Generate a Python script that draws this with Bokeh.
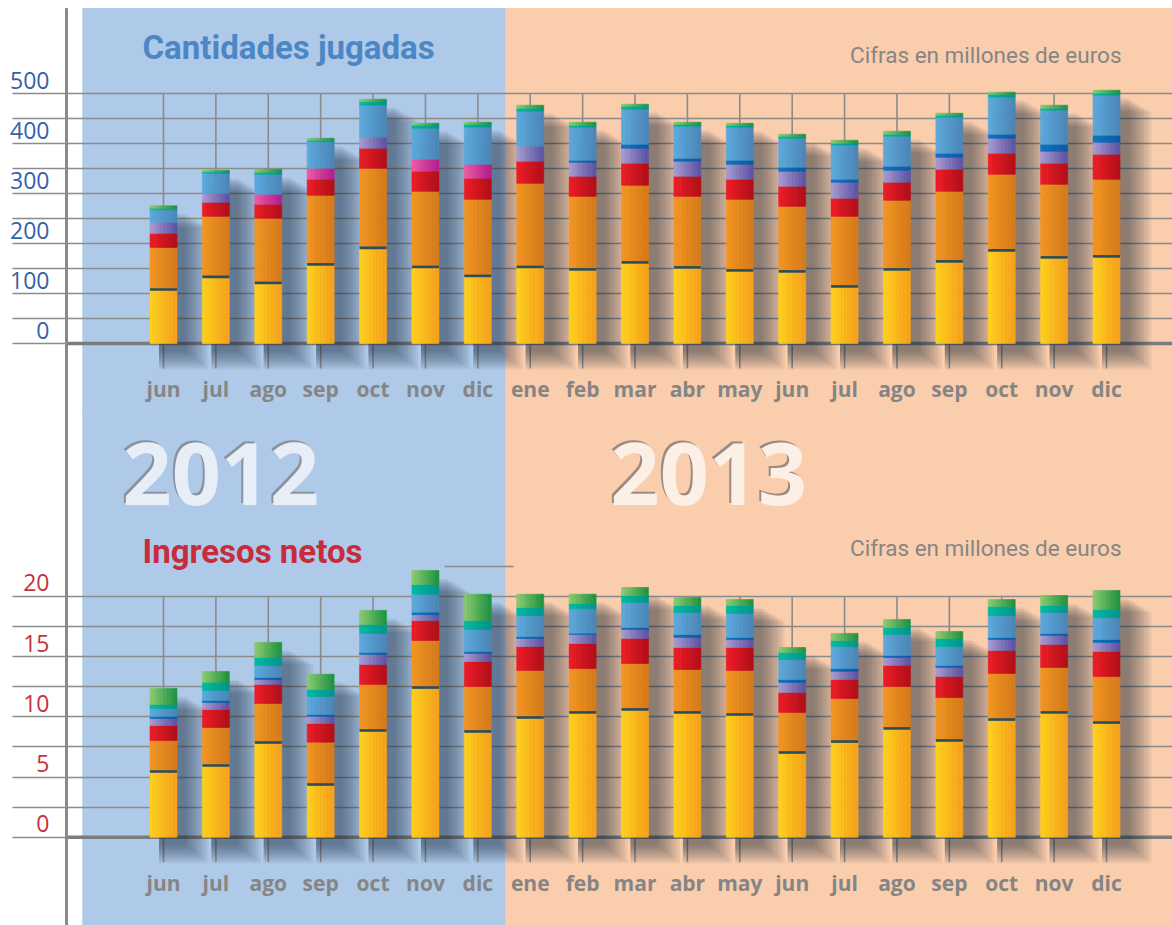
import numpy as np
from bokeh.plotting import figure
from bokeh.layouts import column
from bokeh.models import Range1d, ColumnDataSource, FixedTicker
from bokeh.core.properties import value
from bokeh.embed import file_html
from bokeh.resources import INLINE

# ---------------------------------------------------------------- data
months = ["jun", "jul", "ago", "sep", "oct", "nov", "dic",
          "ene", "feb", "mar", "abr", "may", "jun", "jul", "ago", "sep", "oct", "nov", "dic"]
years = ["2012"] * 7 + ["2013"] * 12

# Cantidades jugadas (millones de euros), stacked bottom -> top
cj_amarillo = [108, 133, 121, 158, 191, 153, 135, 153, 148, 162, 152, 146, 144, 114, 148, 164, 186, 172, 174]
cj_naranja  = [84, 121, 129, 138, 159, 151, 153, 167, 146, 154, 142, 142, 130, 140, 138, 140, 152, 146, 154]
cj_rojo     = [28, 28, 28, 32, 40, 40, 42, 44, 40, 44, 40, 40, 40, 36, 36, 44, 42, 42, 50]
cj_rosa     = [0, 0, 20, 22, 0, 24, 28, 0, 0, 0, 0, 0, 0, 0, 0, 0, 0, 0, 0]
cj_morado   = [22, 18, 0, 0, 22, 0, 0, 30, 28, 30, 30, 30, 30, 32, 24, 24, 30, 24, 24]
cj_azul_osc = [0, 0, 0, 0, 0, 0, 0, 0, 4, 8, 6, 8, 8, 6, 8, 8, 8, 14, 14]
cj_azul     = [25, 40, 40, 53, 64, 62, 74, 70, 66, 70, 64, 66, 58, 68, 60, 72, 74, 68, 80]
cj_turquesa = [3, 3, 4, 3, 7, 6, 6, 6, 4, 6, 4, 4, 4, 4, 4, 4, 6, 4, 4]
cj_verde    = [5, 3, 6, 4, 5, 4, 4, 6, 6, 4, 4, 4, 4, 6, 6, 4, 4, 6, 6]

# Ingresos netos (millones de euros), stacked bottom -> top
in_amarillo = [5.46, 5.96, 7.87, 4.38, 8.87, 12.44, 8.79, 9.95, 10.37, 10.62, 10.37, 10.20, 7.04, 7.95, 9.04, 8.04, 9.78, 10.37, 9.53]
in_naranja  = [2.58, 3.16, 3.25, 3.52, 3.83, 3.91, 3.74, 3.91, 3.65, 3.82, 3.57, 3.66, 3.33, 3.58, 3.49, 3.57, 3.83, 3.74, 3.83]
in_rojo     = [1.25, 1.50, 1.58, 1.55, 1.66, 1.65, 2.07, 1.99, 2.08, 2.08, 1.83, 1.91, 1.66, 1.58, 1.75, 1.75, 1.91, 1.91, 2.08]
in_morado   = [0.58, 0.58, 0.40, 0.59, 0.84, 0.50, 0.67, 0.67, 0.75, 0.75, 0.83, 0.66, 0.83, 0.67, 0.66, 0.75, 0.91, 0.75, 0.75]
in_azul_osc = [0.17, 0.17, 0.18, 0.16, 0.16, 0.20, 0.17, 0.16, 0.11, 0.16, 0.25, 0.17, 0.25, 0.24, 0.17, 0.17, 0.17, 0.17, 0.24]
in_azul     = [0.66, 0.83, 1.00, 1.50, 1.58, 1.50, 1.83, 1.75, 2.04, 2.08, 1.83, 2.00, 1.66, 1.83, 1.74, 1.57, 1.83, 1.74, 1.83]
in_turquesa = [0.34, 0.67, 0.66, 0.58, 0.75, 0.80, 0.73, 0.67, 0.43, 0.58, 0.58, 0.66, 0.59, 0.50, 0.58, 0.67, 0.75, 0.58, 0.67]
in_verde    = [1.33, 0.91, 1.25, 1.27, 1.16, 1.17, 2.20, 1.10, 0.77, 0.67, 0.67, 0.50, 0.41, 0.59, 0.67, 0.58, 0.58, 0.83, 1.58]

cj_ticks = [0, 100, 200, 300, 400, 500]
cj_grid = list(range(0, 501, 50))
in_ticks = [0, 5, 10, 15, 20]
in_grid = [0, 2.5, 5, 7.5, 10, 12.5, 15, 17.5, 20]

# ---------------------------------------------------------------- styles
COL = {
    "amarillo": ("#FFD11C", "#F6A01C"),
    "naranja": ("#F39621", "#D47A1A"),
    "rojo": ("#EE1D26", "#B10E17"),
    "rosa": ("#EF5CA2", "#B31C8C"),
    "morado": ("#A99DD1", "#5A51A2"),
    "azul_osc": ("#1272C2", "#0A5BA6"),
    "azul": ("#5DAADF", "#4A86B6"),
    "turquesa": ("#00BBA3", "#00958A"),
    "verde": ("#8DCC70", "#1A9140"),
}
GRID_C = "#8b8b8b"
AXIS_C = "#8a8a8a"
BLUE_BG = "#AFC9E8"
PEACH_BG = "#FACDAD"
N = len(months)
idx = np.arange(N)

# layout in page pixels (page origin = top-left of the window)
PAGE_W, PAGE_H = 1172, 925
FRAME_L, FRAME_R = 66, 1172
TOP_Y0, SPLIT_Y, BOT_Y1 = 0, 408, 925
BG_TOP, BLUE_L, SPLIT_X = 8, 82, 505
X0_PX, DX_PX = 163.0, 52.39
BAR_W = 27 / DX_PX
TOP_BASE, TOP_PPU = 343.0, 0.5006
BOT_BASE, BOT_PPU = 836.7, 12.03
STRIPS = 8
SH_DX, SH_DY = 9.0, 8.0
BL = 0.30  # svg alphabetic baseline correction (fraction of font size)


def hex2rgb(h):
    h = h.lstrip("#")
    return np.array([int(h[i:i + 2], 16) for i in (0, 2, 4)], float)


def mix(a, b, t):
    c = hex2rgb(a) * (1 - t) + hex2rgb(b) * t
    return "#%02x%02x%02x" % tuple(int(round(v)) for v in c)


def ptext(p, x, y, text, size, color, align="left", bold=False, font="Roboto", **kw):
    p.text(x=x, y=[v - BL * size for v in y], text=text, x_range_name="px", y_range_name="px",
           text_align=align, text_baseline="alphabetic", text_font=value(font),
           text_font_style="bold" if bold else "normal", text_font_size=f"{size}px",
           text_color=color, **kw)


def make_panel(segs, grid_vals, tick_vals, tick_off, base, ppu, top_px, bot_px, tick_color):
    yr = Range1d((base - bot_px) / ppu, (base - top_px) / ppu)
    p = figure(width=PAGE_W, height=int(bot_px - top_px),
               x_range=Range1d((FRAME_L - X0_PX) / DX_PX, (FRAME_R - X0_PX) / DX_PX),
               y_range=yr,
               x_axis_location=None, y_axis_location="left",
               toolbar_location=None, output_backend="svg",
               min_border_left=FRAME_L, min_border_right=0, min_border_top=0, min_border_bottom=0,
               background_fill_color=None, border_fill_color=None, outline_line_color=None)
    p.extra_x_ranges = {"px": Range1d(FRAME_L, FRAME_R)}
    p.extra_y_ranges = {"px": Range1d(bot_px, top_px)}
    p.xgrid.visible = False

    # axis: labels slightly raised above their gridline, gridline stubs as minor ticks
    ax = p.yaxis[0]
    lab_pos = [float(v) + tick_off for v in tick_vals]
    ax.ticker = FixedTicker(ticks=lab_pos, minor_ticks=[float(g) for g in grid_vals])
    ax.major_label_overrides = {lp: f"{v:g}" for lp, v in zip(lab_pos, tick_vals)}
    ax.major_tick_line_color = None
    ax.major_tick_out = 0
    ax.major_tick_in = 0
    ax.minor_tick_out = FRAME_L - 12
    ax.minor_tick_in = 0
    ax.minor_tick_line_color = GRID_C
    ax.minor_tick_line_width = 1.6
    ax.axis_line_color = AXIS_C
    ax.axis_line_width = 3
    ax.major_label_standoff = (FRAME_L - 49) - (FRAME_L - 12)
    ax.major_label_text_font = "Open Sans"
    ax.major_label_text_font_size = "23px"
    ax.major_label_text_color = tick_color
    if top_px < BG_TOP:
        ax.bounds = (yr.start, (base - BG_TOP) / ppu)

    g = p.ygrid[0]
    g.ticker = FixedTicker(ticks=[float(v) for v in grid_vals])
    g.grid_line_color = GRID_C
    g.grid_line_width = 1.6

    # backgrounds (2012 blue / 2013 peach)
    bt = max(top_px, BG_TOP)
    p.quad(left=[FRAME_L - 2, BLUE_L, SPLIT_X], right=[BLUE_L, SPLIT_X, FRAME_R + 10],
           top=[bt] * 3, bottom=[bot_px + 10] * 3,
           fill_color=["white", BLUE_BG, PEACH_BG], line_color=None,
           x_range_name="px", y_range_name="px", level="image")

    # vertical grid lines at each month
    tick_len = 25 / ppu
    p.segment(x0=idx, x1=idx, y0=[max(grid_vals)] * N, y1=[-tick_len] * N,
              line_color=GRID_C, line_width=1.6)
    # baseline
    p.segment(x0=[FRAME_L - 2], x1=[FRAME_R + 10], y0=[0], y1=[0], x_range_name="px",
              line_color="#7c7c7c", line_width=3.5)

    totals = np.sum([np.asarray(v, float) for v, _ in segs], axis=0)
    # soft shadow towards the lower right
    for s in np.arange(0, 24, 2.5):
        p.quad(left=idx - BAR_W / 2 + SH_DX / DX_PX,
               right=idx + BAR_W / 2 + (SH_DX + s) / DX_PX,
               top=totals - (SH_DY + 0.6 * s) / ppu,
               bottom=np.full(N, -(SH_DY + 0.8 * s) / ppu),
               fill_color="#141b2b", fill_alpha=0.06, line_color=None)

    # stacked bars with horizontal gradient (thin strips)
    xs, bots, tops, cols = [], [], [], []
    cum = np.zeros(N)
    for vals, key in segs:
        vals = np.asarray(vals, float)
        cl, cr = COL[key]
        for k in range(STRIPS):
            c = mix(cl, cr, (k + 0.5) / STRIPS)
            for i in range(N):
                if vals[i] <= 0:
                    continue
                xs.append(i - BAR_W / 2 + (k + 0.5) * BAR_W / STRIPS)
                bots.append(cum[i])
                tops.append(cum[i] + vals[i])
                cols.append(c)
        cum = cum + vals
    src = ColumnDataSource(dict(x=xs, bottom=bots, top=tops, color=cols))
    p.vbar(x="x", width=BAR_W / STRIPS, bottom="bottom", top="top", source=src,
           fill_color="color", line_color="color", line_width=0.6)

    # dark divider at top of the yellow segment
    first = np.asarray(segs[0][0], float)
    p.segment(x0=idx - BAR_W / 2, x1=idx + BAR_W / 2, y0=first, y1=first,
              line_color="#284e5e", line_width=2.6)

    return p


# ---------------------------------------------------------------- top panel
top = make_panel(
    [(cj_amarillo, "amarillo"), (cj_naranja, "naranja"), (cj_rojo, "rojo"), (cj_rosa, "rosa"),
     (cj_morado, "morado"), (cj_azul_osc, "azul_osc"), (cj_azul, "azul"),
     (cj_turquesa, "turquesa"), (cj_verde, "verde")],
    cj_grid, cj_ticks, 26, TOP_BASE, TOP_PPU, TOP_Y0, SPLIT_Y, "#3462aa")

top.text(x=idx, y=[395 - BL * 21] * N, text=months, y_range_name="px",
         text_align="center", text_baseline="alphabetic",
         text_font=value("Open Sans"), text_font_style="bold", text_font_size="21px", text_color="#858585")
ptext(top, [142], [57], ["Cantidades jugadas"], 33, "#4b86c6", bold=True)
ptext(top, [1121], [61], ["Cifras en millones de euros"], 22.5, "#858585", align="right")

# ---------------------------------------------------------------- bottom panel
bot = make_panel(
    [(in_amarillo, "amarillo"), (in_naranja, "naranja"), (in_rojo, "rojo"),
     (in_morado, "morado"), (in_azul_osc, "azul_osc"), (in_azul, "azul"),
     (in_turquesa, "turquesa"), (in_verde, "verde")],
    in_grid, in_ticks, 1.14, BOT_BASE, BOT_PPU, SPLIT_Y, BOT_Y1, "#c5323d")

# year captions (embossed look)
year_x = [120, 608]
year_txt = ["2012", "2013"]
ptext(bot, year_x, [497, 497], year_txt, 86, ["#8a929c", "#998b83"], bold=True, font="Open Sans")
ptext(bot, [x + 2 for x in year_x], [499, 499], year_txt, 86, ["#e7eef8", "#fcefe6"],
      bold=True, font="Open Sans")

bot.text(x=idx, y=[889 - BL * 21] * N, text=months, y_range_name="px",
         text_align="center", text_baseline="alphabetic",
         text_font=value("Open Sans"), text_font_style="bold", text_font_size="21px", text_color="#858585")
ptext(bot, [142], [561], ["Ingresos netos"], 33, "#c62c3c", bold=True)
ptext(bot, [1121], [554], ["Cifras en millones de euros"], 22.5, "#858585", align="right")
bot.segment(x0=[444], x1=[513], y0=[566], y1=[566], x_range_name="px", y_range_name="px",
            line_color=GRID_C, line_width=1.4)

# page background behind both panels (keeps blue / peach / axis line continuous at the seam)
bg = ("linear-gradient(to bottom, #ffffff 0px, #ffffff {t}px, rgba(255,255,255,0) {t}px), "
      "linear-gradient(to right, rgba(0,0,0,0) {a0}px, {ac} {a0}px, {ac} {a1}px, rgba(0,0,0,0) {a1}px), "
      "linear-gradient(to right, #ffffff 0px, #ffffff {b}px, {bc} {b}px, {bc} {s}px, {pc} {s}px, {pc} 100%)"
      ).format(t=BG_TOP, a0=FRAME_L - 1.5, a1=FRAME_L + 1.5, ac=AXIS_C,
               b=BLUE_L, bc=BLUE_BG, s=SPLIT_X, pc=PEACH_BG)
layout = column(top, bot, spacing=0, styles={"background": bg})
open("out.html", "w").write(file_html(layout, INLINE))
